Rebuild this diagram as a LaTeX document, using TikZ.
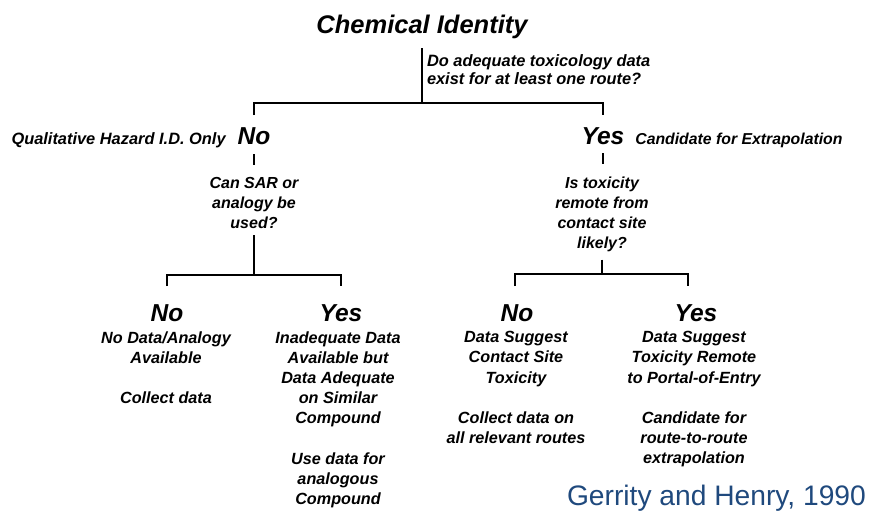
\documentclass[tikz,border=0pt]{standalone}
\usepackage{fontspec}
\setmainfont{Liberation Sans}
\usetikzlibrary{positioning}
\definecolor{citeblue}{HTML}{1F497D}

\begin{document}
\begin{tikzpicture}[x=1pt,y=1pt,line width=2pt,
  every node/.style={inner sep=0pt},
  chemtitle/.style={font=\fontsize{25.5}{26}\selectfont\bfseries\itshape},
  answer/.style={font=\fontsize{24.5}{25}\selectfont\bfseries\itshape},
  aside/.style={font=\fontsize{16.4}{18}\selectfont\bfseries\itshape},
  question/.style={align=center,anchor=north,font=\fontsize{16}{20}\selectfont\bfseries\itshape},
  outcome/.style={align=center,anchor=north,font=\fontsize{16.2}{20.2}\selectfont\bfseries\itshape}]
\useasboundingbox (0,0) rectangle (873,-512);

% top level
\node[chemtitle,anchor=base] (chem) at (422,-33) {Chemical Identity};
\coordinate (j1) at (422,-103);
\node[aside,align=left,anchor=north west] (q0) at (426,-53.5) {Do adequate toxicology data\\exist for at least one route?};
\node[answer,anchor=base] (n1) at (254,-144) {No};
\node[answer,anchor=base] (y1) at (603,-144) {Yes};
\node[aside,base left=10pt of n1] (qual) {Qualitative Hazard I.D. Only};
\node[aside,base right=9pt of y1,font=\fontsize{15.8}{18}\selectfont\bfseries\itshape] (cand) {Candidate for Extrapolation};
\draw (chem.south) ++(0,-9) -- (j1);
\draw ([yshift=11pt]n1.north) |- (j1) -| ([yshift=11pt]y1.north);

% second level questions
\node[question] (q1) at (254,-176.3) {Can SAR or\\analogy be\\used?};
\node[question] (q2) at (602,-176.3) {Is toxicity\\remote from\\contact site\\likely?};
\draw[shorten <=9pt,shorten >=11pt] (n1.south) -- (n1.south |- q1.north);
\draw[shorten <=8pt,shorten >=12pt] (y1.south) -- (y1.south |- q2.north);

% left branch
\coordinate (j2) at (254,-275);
\node[answer,anchor=base] (n2) at (167,-321) {No};
\node[answer,anchor=base] (y2) at (341,-321) {Yes};
\draw[shorten <=5.5pt] (q1.south) -- (j2);
\draw ([yshift=17pt]n2.north) |- (j2) -| ([yshift=17pt]y2.north);
\node[outcome] (t2) at (166,-330.3) {No Data/Analogy\\Available\\[20.2pt]Collect data};
\node[outcome] (t3) at (338,-330.3) {Inadequate Data\\Available but\\Data Adequate\\on Similar\\Compound\\[20.2pt]Use data for\\analogous\\Compound};

% right branch
\coordinate (j3) at (602,-274);
\node[answer,anchor=base] (n3) at (517,-321) {No};
\node[answer,anchor=base] (y3) at (696,-321) {Yes};
\draw[shorten <=6.5pt] (q2.south) -- (j3);
\draw ([xshift=-2pt,yshift=17pt]n3.north) |- (j3) -| ([xshift=-8pt,yshift=17pt]y3.north);
\node[outcome] (t4) at (516,-330.3) {Data Suggest\\Contact Site\\Toxicity\\[20.2pt]Collect data on\\all relevant routes};
\node[outcome] (t5) at (694,-330.3) {Data Suggest\\Toxicity Remote\\to Portal-of-Entry\\[20.2pt]Candidate for\\route-to-route\\extrapolation};

% source
\node[anchor=base west,text=citeblue,font=\fontsize{28.2}{30}\selectfont] (cite) at (566,-505.5) {Gerrity and Henry, 1990};
\end{tikzpicture}
\end{document}
